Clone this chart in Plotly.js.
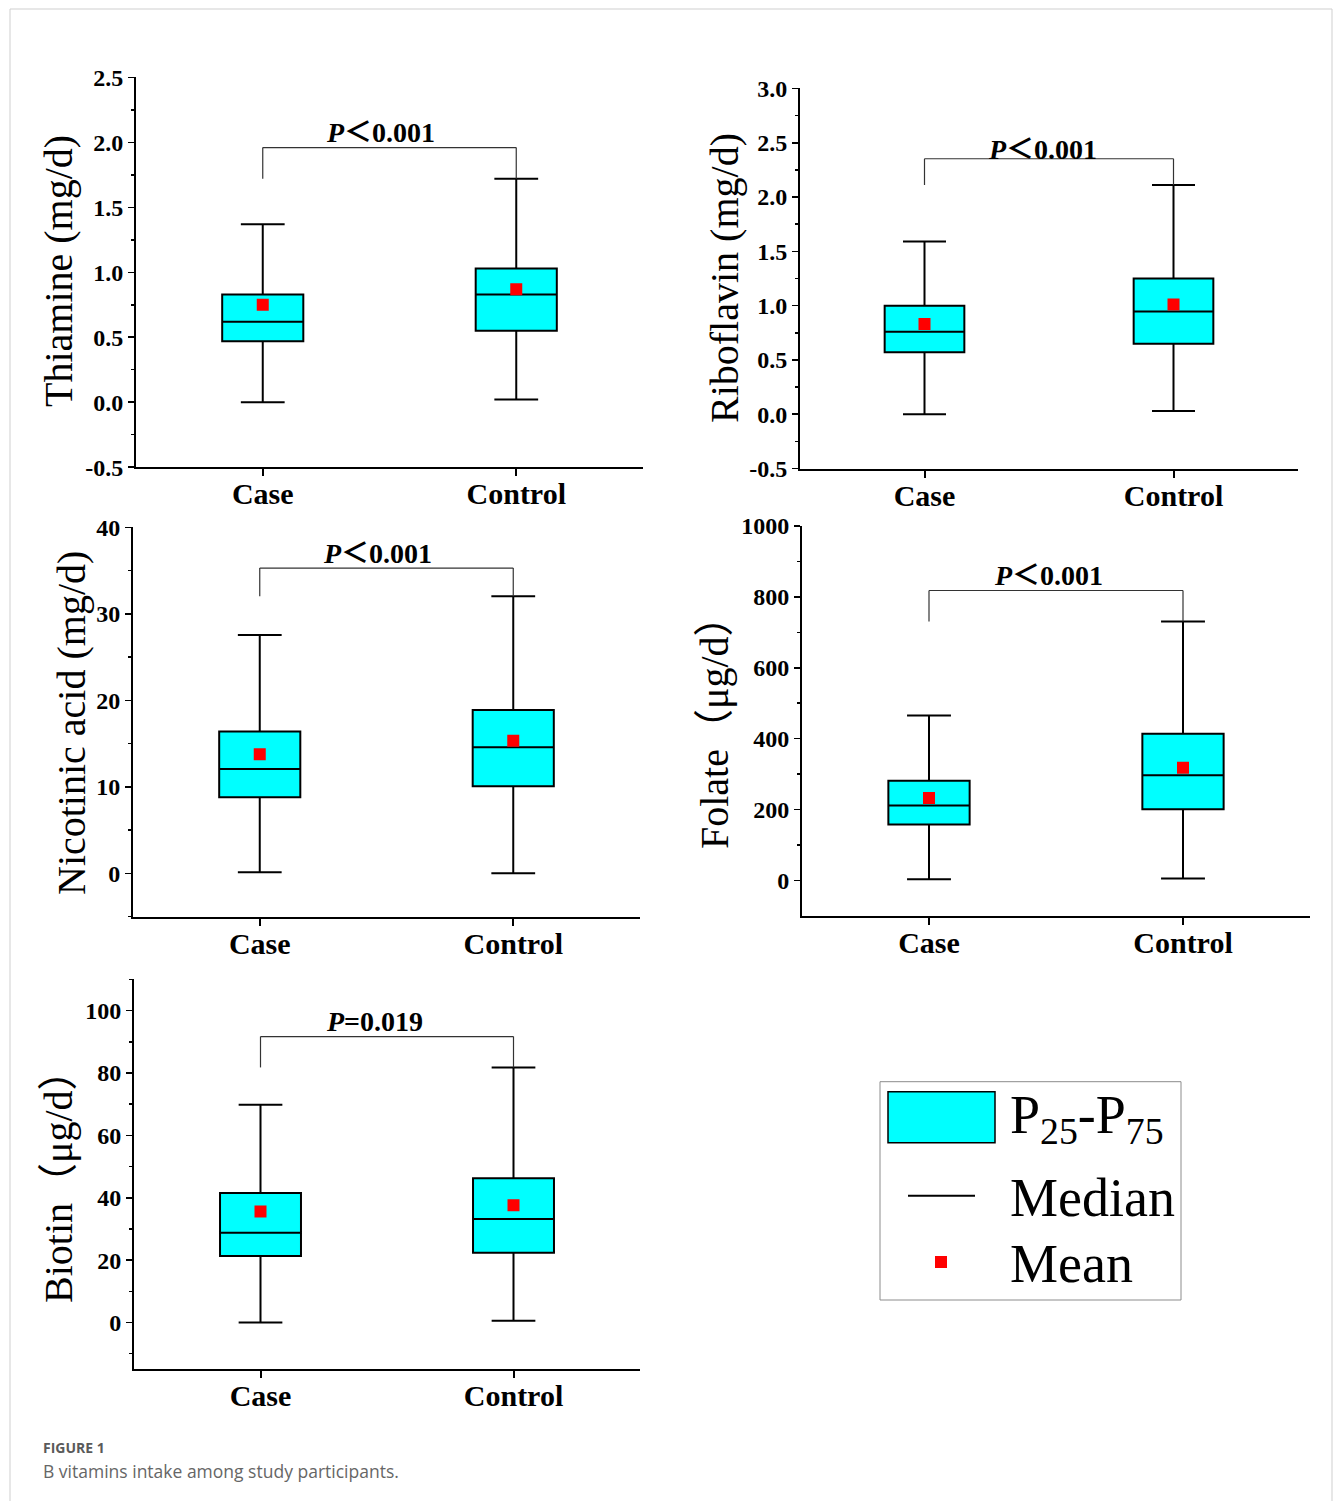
<!DOCTYPE html>
<html>
<head>
<meta charset="utf-8">
<script src="https://cdn.plot.ly/plotly-3.0.1.min.js"></script>
<style>html,body{margin:0;padding:0;background:#fff;}#chart{width:1333px;height:1501px;}</style>
</head>
<body>
<div id="chart"></div>
<script>
// ---------- DATA ----------
const groups = ['Case', 'Control'];
const vitaminTitles = ['Thiamine (mg/d)', 'Riboflavin (mg/d)', 'Nicotinic acid (mg/d)', 'Folate（μg/d）', 'Biotin（μg/d）'];
// order: Thiamine, Riboflavin, Nicotinic acid, Folate, Biotin
const caseMin    = [0.00, 0.00, 0.12, 3.8, 0.0];
const caseQ1     = [0.47, 0.57, 8.8, 157.7, 21.3];
const caseMedian = [0.62, 0.76, 12.06, 211.3, 28.8];
const caseQ3     = [0.83, 1.00, 16.4, 281.7, 41.5];
const caseMax    = [1.37, 1.59, 27.55, 465.7, 69.8];
const caseMean   = [0.75, 0.83, 13.76, 232.9, 35.6];
const controlMin    = [0.02, 0.03, 0.0, 5.6, 0.6];
const controlQ1     = [0.55, 0.65, 10.06, 200.9, 22.4];
const controlMedian = [0.83, 0.945, 14.57, 296.7, 33.2];
const controlQ3     = [1.03, 1.25, 18.88, 414, 46.3];
const controlMax    = [1.72, 2.11, 32.06, 730.5, 81.8];
const controlMean   = [0.87, 1.01, 15.34, 318.3, 37.6];
const pLabels = ['<b><i>P</i>＜0.001</b>', '<b><i>P</i>＜0.001</b>', '<b><i>P</i>＜0.001</b>', '<b><i>P</i>＜0.001</b>', '<b><i>P</i>=0.019</b>'];
const thiamineTicks = ['-0.5', '0.0', '0.5', '1.0', '1.5', '2.0', '2.5'];
const riboflavinTicks = ['-0.5', '0.0', '0.5', '1.0', '1.5', '2.0', '2.5', '3.0'];
const nicotinicTicks = ['0', '10', '20', '30', '40'];
const folateTicks = ['0', '200', '400', '600', '800', '1000'];
const biotinTicks = ['0', '20', '40', '60', '80', '100'];
const legendLabels = ['P<sub>25</sub>-P<sub>75</sub>', 'Median', 'Mean'];
const captionLabel = 'FIGURE 1';
const captionText = 'B vitamins intake among study participants.';

// ---------- LAYOUT CONFIG ----------
const W = 1333, H = 1501;
const fx = p => p / W;
const fy = p => 1 - p / H;

const panels = [
  {x0:136, x1:643, y0:77.3,  y1:467.3, range:[-0.5, 2.5],   tickvals:[-0.5,0,0.5,1,1.5,2,2.5], ticktext:thiamineTicks, minor:0.25, bracketY:1.96, textY:2.08, pshift:-9, tx:58, ty:271},
  {x0:800, x1:1298, y0:88.3, y1:468.7, range:[-0.5, 3.0],   tickvals:[-0.5,0,0.5,1,1.5,2,2.5,3], ticktext:riboflavinTicks, minor:0.25, bracketY:2.353, textY:2.44, pshift:-7, tx:725, ty:278},
  {x0:133, x1:640, y0:527.3, y1:916.7, range:[-5, 40],      tickvals:[0,10,20,30,40], ticktext:nicotinicTicks, minor:5, bracketY:35.3, textY:37.0, pshift:-9, tx:72, ty:723},
  {x0:802, x1:1310, y0:525.7, y1:915.7, range:[-98.6, 1000], tickvals:[0,200,400,600,800,1000], ticktext:folateTicks, minor:100, bracketY:817.8, textY:860, pshift:-8, tx:715, ty:723},
  {x0:134, x1:640, y0:979.3, y1:1369,  range:[-14.85, 110], tickvals:[0,20,40,60,80,100], ticktext:biotinTicks, minor:10, bracketY:91.7, textY:96.5, pshift:-13, tx:58, ty:1177}
];

const SERIF = '"Liberation Serif", "Times New Roman", "Noto Sans CJK SC", serif';
const data = [];
const shapes = [];
const annotations = [];
const layout = {
  width: W, height: H,
  margin: {l:0, r:0, t:0, b:0},
  paper_bgcolor: '#ffffff',
  plot_bgcolor: 'rgba(0,0,0,0)',
  showlegend: false,
  font: {family: SERIF, color: '#000'},
  hovermode: false
};

panels.forEach((p, i) => {
  const n = i + 1;
  const xa = 'x' + n, ya = 'y' + n;
  data.push({
    type: 'box', x: groups,
    q1: [caseQ1[i], controlQ1[i]],
    median: [caseMedian[i], controlMedian[i]],
    q3: [caseQ3[i], controlQ3[i]],
    lowerfence: [caseMin[i], controlMin[i]],
    upperfence: [caseMax[i], controlMax[i]],
    xaxis: xa, yaxis: ya,
    fillcolor: '#00FFFF',
    line: {color: '#000000', width: 2},
    width: 0.32, whiskerwidth: 0.54,
    boxpoints: false, hoverinfo: 'skip', showlegend: false
  });
  data.push({
    type: 'scatter', mode: 'markers', x: groups,
    y: [caseMean[i], controlMean[i]],
    xaxis: xa, yaxis: ya,
    marker: {symbol: 'square', size: 12, color: '#FF0000', line: {width: 0}},
    hoverinfo: 'skip', showlegend: false
  });
  const eps = (p.range[1] - p.range[0]) * 0.0005;
  layout['xaxis' + n] = {
    domain: [fx(p.x0), fx(p.x1)], anchor: ya,
    type: 'category', range: [-0.5, 1.5],
    showline: true, linewidth: 2, linecolor: '#000',
    ticks: 'outside', ticklen: 7, tickwidth: 2, tickcolor: '#000',
    ticklabelstandoff: -8,
    tickfont: {family: SERIF, size: 30, weight: 'bold', color: '#000'},
    showgrid: false, zeroline: false, fixedrange: true
  };
  layout['yaxis' + n] = {
    domain: [fy(p.y1), fy(p.y0)], anchor: xa,
    range: [p.range[0] - eps, p.range[1] + eps],
    tickmode: 'array', tickvals: p.tickvals, ticktext: p.ticktext,
    showline: true, linewidth: 2, linecolor: '#000',
    ticks: 'outside', ticklen: 6, tickwidth: 1.5, tickcolor: '#000',
    minor: {tickmode: 'linear', tick0: 0, dtick: p.minor, ticks: 'outside', ticklen: 3, tickwidth: 1.5, tickcolor: '#000', showgrid: false},
    tickfont: {family: SERIF, size: 24, weight: 'bold', color: '#000'},
    showgrid: false, zeroline: false, fixedrange: true
  };
  // significance bracket
  const bl = {color: '#333333', width: 1.2};
  shapes.push({type:'line', xref:xa, yref:ya, x0:groups[0], x1:groups[0], y0:controlMax[i], y1:p.bracketY, line:bl});
  shapes.push({type:'line', xref:xa, yref:ya, x0:groups[0], x1:groups[1], y0:p.bracketY, y1:p.bracketY, line:bl});
  shapes.push({type:'line', xref:xa, yref:ya, x0:groups[1], x1:groups[1], y0:controlMax[i], y1:p.bracketY, line:bl});
  annotations.push({xref:xa, yref:ya, x:0.5, y:p.textY, text:pLabels[i], showarrow:false, xshift:p.pshift,
    xanchor:'center', yanchor:'middle', font:{family:SERIF, size:28, color:'#000'}});
  // axis title
  annotations.push({xref:'paper', yref:'paper', x:fx(p.tx), y:fy(p.ty), text:vitaminTitles[i], textangle:-90,
    showarrow:false, xanchor:'center', yanchor:'middle', font:{family:SERIF, size:40, color:'#000'}});
});

// legend box (drawn)
shapes.push({type:'rect', xref:'paper', yref:'paper', x0:fx(880), x1:fx(1181), y0:fy(1300), y1:fy(1081.7), line:{color:'#8c8c8c', width:1}, fillcolor:'rgba(0,0,0,0)'});
shapes.push({type:'rect', xref:'paper', yref:'paper', x0:fx(888), x1:fx(995), y0:fy(1142.7), y1:fy(1091.7), line:{color:'#000', width:1.5}, fillcolor:'#00FFFF'});
shapes.push({type:'line', xref:'paper', yref:'paper', x0:fx(908), x1:fx(975), y0:fy(1195.7), y1:fy(1195.7), line:{color:'#000', width:2}});
shapes.push({type:'rect', xref:'paper', yref:'paper', x0:fx(935), x1:fx(947), y0:fy(1268), y1:fy(1256), line:{width:0}, fillcolor:'#FF0000'});
[1118, 1198, 1264].forEach((yy, k) => {
  annotations.push({xref:'paper', yref:'paper', x:fx(1008), y:fy(yy), text:legendLabels[k], showarrow:false,
    xanchor:'left', yanchor:'middle', font:{family:SERIF, size:54, color:'#000'}});
});

// outer frame and caption
shapes.push({type:'rect', xref:'paper', yref:'paper', x0:fx(10), x1:fx(1332), y0:fy(1520), y1:fy(9), line:{color:'#cfcfcf', width:1}, fillcolor:'rgba(0,0,0,0)', layer:'below'});
annotations.push({xref:'paper', yref:'paper', x:fx(41), y:fy(1447), text:'<b>' + captionLabel + '</b>', showarrow:false,
  xanchor:'left', yanchor:'middle', font:{family:'"Open Sans", Lato, sans-serif', size:14, color:'#5a5a5a'}});
annotations.push({xref:'paper', yref:'paper', x:fx(41), y:fy(1471), text:captionText, showarrow:false,
  xanchor:'left', yanchor:'middle', font:{family:'"Open Sans", Lato, sans-serif', size:17.5, color:'#666666'}});

layout.shapes = shapes;
layout.annotations = annotations;

Plotly.newPlot('chart', data, layout, {staticPlot: true, displayModeBar: false});
</script>
</body>
</html>
